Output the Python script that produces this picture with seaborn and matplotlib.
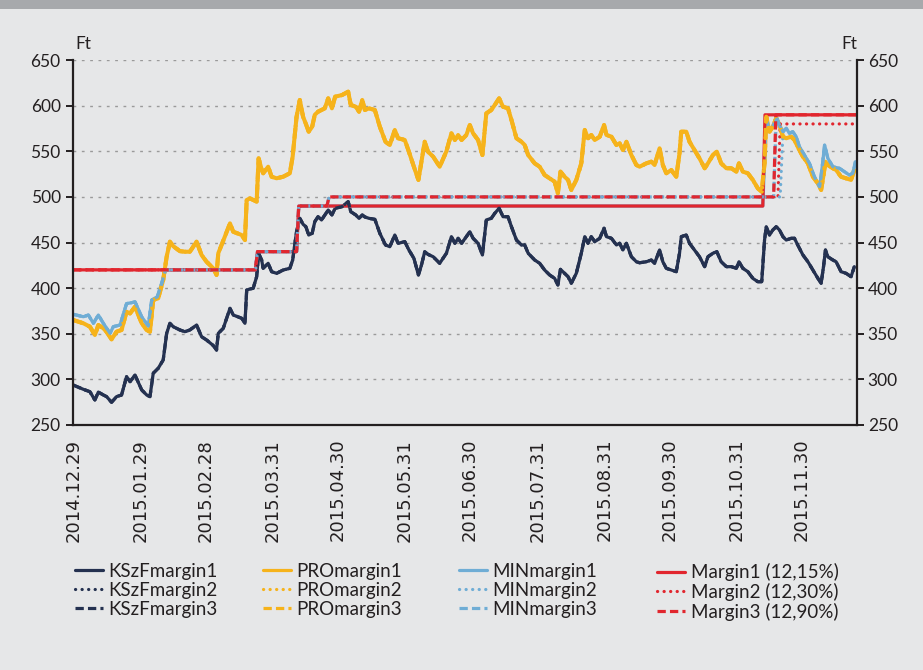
import numpy as np
import pandas as pd
import matplotlib
matplotlib.use("Agg")
import matplotlib.pyplot as plt
import matplotlib.dates as mdates
from matplotlib.lines import Line2D
from matplotlib.patches import Rectangle
import seaborn as sns

# ---------------------------------------------------------------- data
start = pd.Timestamp("2014-12-29")
last_day = 361.3

# trading-day observations, as day offsets from the start date
days = [0.0, 4.7, 7.7, 10.0, 11.6, 13.9, 15.4, 17.7, 20.0, 22.3, 24.6, 26.2, 28.5,
        31.6, 33.9, 35.4, 36.9, 39.2, 41.5, 43.1, 44.6, 46.1, 49.2, 51.5, 53.8,
        56.9, 59.2, 61.5, 64.6, 66.1, 66.9, 69.2, 72.3, 73.8, 77.7, 79.2, 80.0,
        81.5, 83.0, 84.6, 85.5, 86.9, 87.6, 89.9, 91.5, 93.8, 96.8, 99.9, 101.2,
        103.0, 104.5, 106.0, 107.3, 108.6, 110.2, 111.4, 112.9, 114.5, 116.0,
        117.6, 119.3, 120.8, 124.0, 126.8, 128.0, 130.3, 131.8, 133.3, 134.5,
        136.4, 139.1, 141.4, 144.0, 146.0, 148.3, 149.8, 152.9, 154.8, 157.1,
        159.2, 160.6, 162.1, 163.6, 166.0, 169.0, 172.1, 174.4, 176.0, 177.5,
        179.1, 181.3, 182.9, 184.4, 186.7, 188.7, 190.5, 192.8, 194.4, 196.4,
        198.2, 200.5, 202.1, 204.4, 206.7, 208.2, 209.8, 212.8, 215.1, 217.4,
        219.7, 222.0, 223.5, 224.7, 226.6, 228.2, 229.7, 232.0, 234.3, 235.9,
        237.4, 238.9, 240.5, 242.8, 244.8, 245.9, 248.2, 250.5, 252.0, 253.5,
        255.1, 257.4, 259.7, 261.2, 264.3, 266.6, 268.1, 270.4, 271.9, 273.5,
        275.8, 278.1, 279.6, 280.4, 282.7, 284.2, 286.5, 288.8, 291.2, 292.7,
        295.0, 296.8, 298.8, 301.2, 303.5, 305.8, 307.0, 308.8, 311.1, 313.4,
        315.7, 317.5, 318.8, 319.6, 321.1, 322.6, 324.2, 325.7, 327.3, 328.8,
        331.1, 332.6, 334.1, 336.5, 338.8, 341.1, 343.4, 344.9, 346.0, 346.9,
        348.0, 350.3, 351.8, 354.1, 356.4, 358.7, 360.2]

kszf = [293.7, 289.0, 286.4, 277.3, 286.0, 282.8, 281.0, 274.8, 281.0, 282.8, 302.9,
        297.4, 304.7, 288.3, 282.8, 281.0, 306.6, 312.1, 321.2, 350.4, 361.4, 357.7,
        354.1, 352.2, 354.1, 359.5, 346.7, 343.1, 337.0, 332.1, 350.4, 355.9, 377.8,
        370.5, 366.9, 361.4, 397.9, 399.0, 399.8, 412.5, 438.2, 430.8, 421.7, 427.2,
        418.0, 416.2, 419.8, 421.7, 430.8, 462.0, 476.5, 470.0, 467.3, 458.2, 460.1,
        472.8, 478.3, 474.7, 480.0, 485.6, 480.2, 487.5, 489.3, 494.8, 483.8, 480.2,
        476.5, 480.2, 478.0, 476.5, 475.4, 460.1, 447.3, 445.4, 458.2, 449.1, 450.9,
        441.8, 432.7, 414.4, 425.3, 439.9, 437.0, 434.4, 427.2, 438.2, 456.4, 449.1,
        454.6, 449.1, 456.4, 461.8, 454.6, 449.1, 436.3, 474.7, 476.5, 482.0, 487.5,
        478.3, 478.3, 467.3, 452.7, 447.3, 447.3, 438.2, 430.8, 427.2, 419.8, 414.4,
        410.7, 403.4, 420.6, 416.2, 412.5, 405.3, 416.2, 438.2, 456.4, 449.1, 456.4,
        450.9, 454.6, 465.6, 456.4, 454.6, 447.3, 449.1, 441.8, 449.1, 434.4, 428.9,
        427.8, 428.9, 430.8, 427.2, 441.8, 428.9, 421.7, 419.8, 418.0, 438.2, 456.4,
        458.2, 449.1, 441.8, 434.4, 423.5, 434.4, 438.2, 440.0, 428.9, 423.5, 423.5,
        421.7, 428.9, 421.7, 418.0, 410.7, 407.0, 407.0, 452.7, 467.3, 458.2, 463.7,
        467.3, 463.7, 456.4, 452.7, 454.6, 454.6, 447.3, 436.3, 428.9, 419.8, 410.7,
        405.3, 423.5, 441.8, 434.4, 430.8, 428.9, 418.0, 416.2, 412.5, 423.5]

pro = [365.0, 361.4, 357.7, 348.6, 359.5, 355.9, 352.0, 343.8, 352.2, 354.1, 374.1,
       372.2, 379.6, 361.4, 354.1, 352.2, 386.9, 388.8, 408.9, 434.4, 450.9, 446.0,
       440.5, 439.9, 439.9, 450.9, 436.3, 428.9, 421.7, 414.4, 438.2, 452.0, 471.0,
       461.8, 458.2, 452.7, 496.6, 498.4, 496.6, 494.8, 542.3, 530.0, 525.9, 533.1,
       522.1, 520.4, 522.1, 525.9, 544.1, 587.9, 606.3, 587.9, 580.0, 571.5, 577.0,
       590.0, 593.4, 595.3, 597.1, 608.1, 597.1, 609.9, 611.7, 615.4, 600.8, 598.9,
       593.4, 606.3, 595.3, 597.1, 595.3, 577.0, 560.5, 556.9, 573.4, 564.3, 562.4,
       549.6, 533.1, 518.6, 538.6, 560.5, 549.6, 544.1, 533.1, 550.0, 569.7, 562.4,
       567.9, 562.4, 567.9, 578.8, 569.7, 562.4, 545.9, 591.6, 595.3, 600.8, 608.1,
       598.9, 597.1, 584.3, 564.3, 560.5, 556.9, 545.9, 536.8, 533.1, 524.0, 520.4,
       516.7, 503.9, 527.7, 522.1, 518.6, 507.6, 518.6, 536.8, 573.4, 564.3, 567.9,
       562.4, 566.0, 578.8, 567.9, 566.0, 556.9, 558.8, 551.4, 560.5, 545.9, 535.0,
       533.1, 536.8, 538.6, 535.0, 553.3, 535.0, 525.9, 529.5, 522.1, 547.8, 571.5,
       571.5, 560.5, 551.4, 542.3, 531.4, 536.8, 545.9, 549.6, 536.8, 531.4, 531.4,
       527.7, 536.8, 527.7, 525.9, 518.6, 509.4, 505.7, 536.8, 587.9, 571.5, 577.0,
       586.2, 578.8, 566.0, 564.3, 566.0, 562.4, 555.0, 544.1, 536.8, 522.1, 514.9,
       507.6, 524.0, 538.6, 535.0, 531.4, 529.5, 522.1, 520.4, 518.6, 529.5]

# MIN margins: common opening stretch (January) and the flat part up to mid-April
min_early_days = [0.0, 4.7, 7.0, 9.3, 11.6, 13.9, 17.0, 18.5, 21.6, 24.6, 27.0, 28.5,
                  31.6, 34.6, 36.2, 38.8, 40.8, 42.3, 43.0, 84.0, 85.0, 103.0, 104.0]
min_early = [371.3, 368.6, 370.5, 361.4, 370.5, 361.4, 350.4, 357.7, 359.5, 383.0,
             384.0, 385.0, 368.5, 358.5, 386.9, 390.6, 405.3, 418.0, 420.0, 420.0,
             440.0, 440.0, 490.0]
# series-specific stretch between mid-April and late November
min1_mid_days = [318.0, 318.8, 319.6, 321.1, 322.6, 324.2, 325.7]
min1_mid = [490.0, 536.8, 587.9, 571.5, 577.0, 588.0, 578.8]
min2_mid_days = [117.0, 118.0, 326.0]
min2_mid = [490.0, 500.0, 500.0]
min3_mid_days = [117.0, 118.0, 323.0, 324.2, 325.7]
min3_mid = [490.0, 500.0, 500.0, 588.0, 578.8]
# common closing stretch (December)
min_late_days = [327.3, 328.8, 330.3, 331.8, 333.4, 334.9, 337.2, 339.5, 341.8, 344.2,
                 345.4, 346.5, 348.0, 350.3, 353.3, 355.6, 357.9, 359.5, 360.7]
min_late = [571.5, 575.2, 569.7, 571.5, 566.0, 555.0, 545.9, 536.8, 522.1, 511.2,
            533.1, 556.9, 542.3, 533.1, 531.4, 527.7, 524.0, 525.9, 538.6]

# margin requirement levels (day offset from which each level applies)
margin1_from = [0, 85, 104, 319]
margin1_level = [420, 440, 490, 590]
margin2_from = [0, 85, 104, 118, 326]
margin2_level = [420, 440, 490, 500, 580]
margin3_from = [0, 85, 104, 118, 324]
margin3_level = [420, 440, 490, 500, 590]

tick_dates = ["2014-12-29", "2015-01-29", "2015-02-28", "2015-03-31", "2015-04-30",
              "2015-05-31", "2015-06-30", "2015-07-31", "2015-08-31", "2015-09-30",
              "2015-10-31", "2015-11-30"]
y_ticks = [250, 300, 350, 400, 450, 500, 550, 600, 650]

families = ["KSzF", "PRO", "MIN", "Margin"]
labels = {
    "KSzF": ["KSzFmargin1", "KSzFmargin2", "KSzFmargin3"],
    "PRO": ["PROmargin1", "PROmargin2", "PROmargin3"],
    "MIN": ["MINmargin1", "MINmargin2", "MINmargin3"],
    "Margin": ["Margin1 (12,15%)", "Margin2 (12,30%)", "Margin3 (12,90%)"],
}

# ---------------------------------------------------------------- helpers
def to_dates(offsets):
    return start + pd.to_timedelta(np.asarray(offsets, dtype=float), unit="D")


def step_series(froms, levels):
    daily = np.arange(0, int(np.ceil(last_day)) + 1)
    s = pd.Series(levels, index=froms, dtype=float).reindex(daily).ffill()
    return to_dates(daily), s.values


min_sets = [
    (min_early_days + min1_mid_days + min_late_days, min_early + min1_mid + min_late),
    (min_early_days + min2_mid_days + min_late_days, min_early + min2_mid + min_late),
    (min_early_days + min3_mid_days + min_late_days, min_early + min3_mid + min_late),
]
margin_sets = [(margin1_from, margin1_level), (margin2_from, margin2_level),
               (margin3_from, margin3_level)]

# ---------------------------------------------------------------- style
sns.set_style("white")
plt.rcParams["font.family"] = ["Lato", "DejaVu Sans"]

BG = "#e6e7e8"
INK = "#231f20"
colors = {"KSzF": "#243150", "PRO": "#f6b31b", "MIN": "#6fadd5", "Margin": "#e1262e"}
widths = {"KSzF": 2.3, "PRO": 2.9, "MIN": 2.3, "Margin": 2.3}
styles = ["-", (0, (0.05, 2.0)), (0, (2.6, 1.3))]
caps = ["butt", "round", "butt"]

fig = plt.figure(figsize=(9.23, 6.70), dpi=100)
fig.patch.set_facecolor(BG)
fig.add_artist(Rectangle((0, 1 - 9 / 670), 1, 9 / 670, transform=fig.transFigure,
                         facecolor="#a7a9ac", edgecolor="none"))

ax = fig.add_axes([73.2 / 923, 1 - 424.9 / 670, (856.7 - 73.2) / 923, (424.9 - 60.1) / 670])
ax.set_facecolor(BG)

x_obs = to_dates(days)


def draw(family, k):
    if family == "KSzF":
        xs, ys = x_obs, kszf
    elif family == "PRO":
        xs, ys = x_obs, pro
    elif family == "MIN":
        xs, ys = to_dates(min_sets[k][0]), min_sets[k][1]
    else:
        xs, ys = step_series(*margin_sets[k])
    sns.lineplot(x=xs, y=ys, ax=ax, color=colors[family], lw=widths[family],
                 linestyle=styles[k], dash_capstyle=caps[k], legend=False,
                 sort=False, estimator=None)


# layering: variant 1 first, the margin-2/3 requirement lines with their MIN lines on top
layers = [("KSzF", 0), ("PRO", 0), ("MIN", 0), ("Margin", 0),
          ("KSzF", 1), ("PRO", 1), ("Margin", 1), ("MIN", 1),
          ("KSzF", 2), ("PRO", 2), ("MIN", 2), ("Margin", 2)]
for fam, k in layers:
    draw(fam, k)

ax.set_xlim(start, start + pd.Timedelta(days=last_day))
ax.set_ylim(250, 650)
ax.set_yticks(y_ticks)
ax.set_xticks(pd.to_datetime(tick_dates))
ax.xaxis.set_major_formatter(mdates.DateFormatter("%Y.%m.%d"))
ax.set_xlabel("")
ax.set_ylabel("")
ax.grid(axis="y", color="#9a9a9a", linestyle=(0, (2, 4)), linewidth=1.0)
ax.grid(axis="x", visible=False)
ax.set_axisbelow(True)

for side in ["left", "bottom"]:
    ax.spines[side].set_color(INK)
    ax.spines[side].set_linewidth(1.6)
ax.spines["top"].set_visible(False)
ax.spines["right"].set_visible(False)

ax.tick_params(axis="y", direction="out", length=5, width=1.4, color=INK,
               labelsize=12.5, labelcolor=INK, pad=4)
ax.tick_params(axis="x", direction="out", length=5, width=1.4, color=INK,
               labelsize=13, labelcolor=INK, pad=5, labelrotation=90,
               labelfontfamily="DejaVu Sans")

ax2 = ax.twinx()
ax2.set_ylim(250, 650)
ax2.set_yticks(y_ticks)
for side in ["left", "top", "bottom"]:
    ax2.spines[side].set_visible(False)
ax2.spines["right"].set_color(INK)
ax2.spines["right"].set_linewidth(1.6)
ax2.tick_params(axis="y", direction="out", length=5, width=1.4, color=INK,
                labelsize=12.5, labelcolor=INK, pad=3)

fig.text(83 / 923, 1 - 44 / 670, "Ft", ha="center", va="center", fontsize=12.5, color=INK)
fig.text(849 / 923, 1 - 44 / 670, "Ft", ha="center", va="center", fontsize=12.5, color=INK)

# legend: one column per series family
col_x = [75, 263, 459, 657]
for fam, cx in zip(families, col_x):
    hs = [Line2D([], [], color=colors[fam], lw=2.3, linestyle=styles[k],
                 dash_capstyle=caps[k]) for k in range(3)]
    fig.legend(hs, labels[fam], loc="upper left",
               bbox_to_anchor=(cx / 923, 1 - 563 / 670), frameon=False,
               fontsize=13.5, handlelength=1.5, handletextpad=0.3,
               labelspacing=0.1, borderpad=0, borderaxespad=0, labelcolor=INK)

fig.savefig("out.png", dpi=100, facecolor=BG)
